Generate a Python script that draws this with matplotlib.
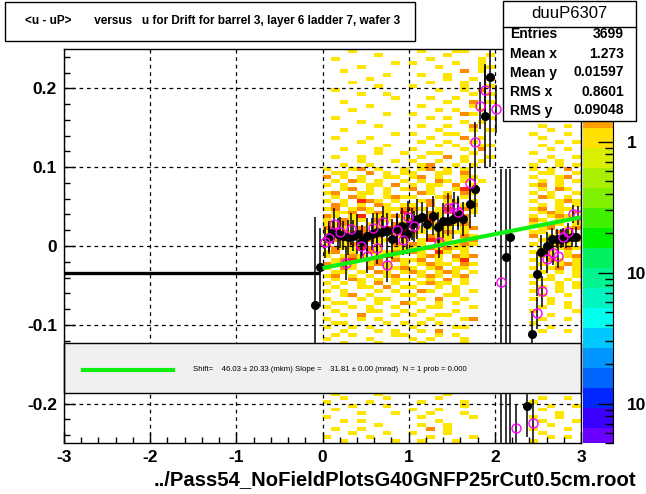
import numpy as np
import matplotlib.pyplot as plt
from matplotlib.patches import Rectangle
from matplotlib.colors import ListedColormap
from matplotlib.ticker import MultipleLocator, LogLocator, NullFormatter

plt.rcParams['font.family'] = ['Liberation Sans', 'DejaVu Sans']
plt.rcParams['axes.unicode_minus'] = False

# profile (black dots), errors low / high
prof_x = [-0.09, -0.03, 0.07, 0.125, 0.183, 0.241, 0.299, 0.357, 0.396, 0.454, 0.513, 0.571,
          0.629, 0.687, 0.745, 0.803, 0.861, 0.919, 0.977, 1.035, 1.093, 1.151, 1.209, 1.286,
          1.344, 1.402, 1.460, 1.518, 1.576, 1.634, 1.712, 1.770, 1.886, 1.944,
          2.13, 2.18, 2.37, 2.43, 2.49, 2.54, 2.60, 2.66, 2.72, 2.77, 2.83, 2.89, 2.94]
prof_y = [-0.075, -0.027, 0.012, 0.0174, 0.0152, 0.0131, 0.011, 0.0131, 0.0152, 0.0068, 0.0131, 0.0152,
          0.0174, 0.0182, 0.0195, 0.0089, 0.0216, 0.0258, 0.0152, 0.028, 0.0343, 0.0364, 0.028, 0.0385,
          0.0237, 0.0322, 0.0322, 0.0343, 0.0406, 0.0343, 0.053, 0.072, 0.165, 0.215,
          -0.014, 0.012, -0.203, -0.112, -0.036, -0.008, -0.0004, 0.009, 0.009, 0.009, 0.010, 0.011, 0.012]
prof_lo = [0.112, 0.05, 0.02, 0.015, 0.02, 0.018, 0.022, 0.02, 0.025, 0.02, 0.022, 0.02,
           0.025, 0.02, 0.022, 0.025, 0.02, 0.022, 0.025, 0.02, 0.025, 0.02, 0.022, 0.025,
           0.02, 0.022, 0.02, 0.025, 0.02, 0.022, 0.03, 0.035, 0.066, 0.115,
           0.25, 0.27, 0.04, 0.03, 0.028, 0.022, 0.018, 0.014, 0.012, 0.012, 0.012, 0.012, 0.012]
prof_hi = [0.112, 0.05, 0.02, 0.015, 0.02, 0.018, 0.022, 0.02, 0.025, 0.02, 0.022, 0.02,
           0.025, 0.02, 0.022, 0.025, 0.02, 0.022, 0.025, 0.02, 0.025, 0.02, 0.022, 0.025,
           0.02, 0.022, 0.02, 0.025, 0.02, 0.022, 0.03, 0.035, 0.066, 0.115,
           0.112, 0.086, 0.04, 0.03, 0.028, 0.022, 0.018, 0.014, 0.012, 0.012, 0.012, 0.012, 0.012]

# second profile (magenta open markers)
mag_x = [0.029, 0.079, 0.137, 0.203, 0.273, 0.331, 0.443, 0.513, 0.582, 0.636, 0.698, 0.752,
         0.868, 0.93, 0.996, 1.062, 1.356, 1.46, 1.526, 1.576, 1.712, 1.77, 1.83, 1.89,
         2.01, 2.07, 2.25, 2.44, 2.49, 2.551, 2.609, 2.671, 2.737, 2.795, 2.852, 2.91, 2.97]
mag_y = [0.0047, 0.0097, 0.028, 0.0174, -0.0216, 0.0216, 0.0004, -0.0123, 0.0224, -0.003, 0.031, -0.024,
         0.0207, 0.008, 0.0372, 0.025, 0.0047, 0.0478, 0.049, 0.0436, 0.080, 0.132, 0.178, 0.198,
         0.174, -0.046, -0.231, -0.224, -0.085, -0.0576, -0.0165, -0.0093, -0.013, 0.011, 0.0174, 0.0406, 0.039]
mag_lo = [0.02, 0.02, 0.02, 0.02, 0.022, 0.02, 0.02, 0.022, 0.02, 0.02, 0.02, 0.022,
          0.02, 0.02, 0.02, 0.02, 0.02, 0.02, 0.02, 0.02, 0.025, 0.025, 0.03, 0.03,
          0.03, 0.25, 0.03, 0.03, 0.02, 0.02, 0.018, 0.015, 0.015, 0.012, 0.012, 0.012, 0.012]
mag_hi = [0.02, 0.02, 0.02, 0.02, 0.022, 0.02, 0.02, 0.022, 0.02, 0.02, 0.02, 0.022,
          0.02, 0.02, 0.02, 0.02, 0.02, 0.02, 0.02, 0.02, 0.025, 0.025, 0.03, 0.03,
          0.03, 0.144, 0.03, 0.03, 0.02, 0.02, 0.018, 0.015, 0.015, 0.012, 0.012, 0.012, 0.012]

# straight line fit and the empty-bin line on the left
fit_x = [0.0, 3.0]
fit_y = [-0.028, 0.0365]
empty_x = [-3.0, -0.03]
empty_y = [-0.0343, -0.0343]

# 2d histogram, rows from y=+0.25 down to -0.25, x bins of 0.1 from 0 to 3
# '.' empty, y yellow, o orange, r red ; '|' = empty columns 2.0..2.4
heat_rows = [
    "...y...... .y...yy... | ......",
    "......y... ....y....y | ......",
    ".y........ ..y.....y. | ......",
    "........y. y....y..y. | ......",
    "....y..... ...y....yy | ......",
    "..y....... ......o.y. | ......",
    ".......y.. .y..y..... | ......",
    ".....y.... ....y..y.y | ......",
    "...y...... ..y...y... | ......",
    "......y... y.....y..y | ......",
    ".y........ ...y..y.o. | ......",
    "....y..y.. .......y.y | ......",
    "........y. ..y..y.... | ......",
    "..y....... ....y..o.y | ......",
    ".....y.... .y.....y.. | ......",
    "...y...... ...y.y..y. | ......",
    ".......y.. y.....oy.. | ......",
    ".y........ ..y.y....y | ......",
    "....y..... ......y.y. | ......",
    "......y... .y..y..o.. | .y..y.",
    "..y....... ...y...y.y | ..y...",
    "........y. y...yy.... | y...y.",
    ".y...y.... ..y...o.y. | .y....",
    "....y..... .y..y..y.. | ...y.y",
    ".......y.. ...y.y..yy | .y....",
    "..y...y... y.....y.o. | ..y.y.",
    "......y..y ..yy...y.. | y.....",
    ".y..y..... .y..o.y..y | ..y..y",
    "....y...y. y..y..y.y. | .y.y..",
    "..y..y.... .yo..y.y.. | y..y.y",
    "y..yo.y..y .yo.y.y... | y.y.o.",
    ".yy..o.y.y y..yy.o... | .yy..y",
    "o.y.y..yy. yo.y..yy.. | y..yo.",
    ".y.oy.y..y .y.oy.y.y. | .y.y.y",
    "y.y..yy.o. y.yy.o.y.. | yo.y..",
    "..yo.y.y.y o.y..yr... | .y.oy.",
    "yo..yy.y.. .oy.y.oy.. | y.y..y",
    ".y.oy..yoy y..yo.y... | .oy.y.",
    "y.y.roy.y. .yo.yy.y.. | y..yoy",
    ".oy.y.oy.y y.o.y.yo.. | .y.y.y",
    "yo.yoy.yyo oy.yr.oy.. | yo.yy.",
    ".yyo.yoy.r y.oyoy.y.. | .yoy.y",
    "oy.yr.yyoy .yoy.yo... | y.yoy.",
    "y.oyy.oy.y oyr.yoy... | oy.y.y",
    "yyoy.yy.oy y.yoryo... | y.oy.y",
    "oyy.o.yroy .yyoy.yo.. | .yo.yo",
    "y.oyoyy.yr oy.yoyy... | yy.oy.",
    ".yy.ryo.yo y.oyy.oy.. | o.y.yy",
    "yoy.yoyy.y .yroy.yo.. | .yoy.y",
    "y.yoo.y.oy oy.y.yoy.. | y.yoy.",
    ".oyyroy.yy y.oyoyy... | .y.yoy",
    "yo.y.oyyoy oy.ry.y... | yoy.y.",
    "y.yoy.yry. .yoy.oyo.. | .yy.yo",
    ".yoryyo.oy yo.y.yr... | y.oy.y",
    "oy.y.yoy.y .yoyy.oy.. | .y.yoy",
    "y.oy.o.yyo y.yo.yy... | y.yo.y",
    ".yy.y.oy.y oy.yoy.y.. | .y.y.y",
    "yo.y.y.yo. .yoy.yo... | y.y..y",
    ".y.oy.y.yy y.y.o.y... | .yy.y.",
    "y.y.y.o.y. .yoyy.y... | y..y.y",
    ".y..yy.o.y y..y.y.... | .y.y.y",
    "y.y...y.y. .oy..y.y.. | y..y..",
    "..yo.y...y y...yy.... | .y..y.",
    "y...y.yy.. .y.o..y... | y.y...",
    ".yy...y..o y..y.y.... | ..y.y.",
    "y..y.y..y. ..yy...y.. | .y..y.",
    ".y...yy..y .y...y.... | y....y",
    "..y.o...y. y..yy..... | ..y...",
    "y...y.y... ..y...yo.. | .y..y.",
    ".yy....y.y .y.y...... | y.....",
    "y..y.y.... y....yy... | ..y...",
    "..y...y.y. .y.o...... | .y..y.",
    ".y.y....yy ...y.y.... | ......",
    "y....y.... y.y...y... | ......",
    "..y...y... .y....y... | ......",
    "y....y.... ...y...... | ......",
    "...y....y. .y...y.... | ......",
    ".y.....y.. ....y...y. | ......",
    "....y..... y......y.. | ......",
    "..y...y... ..y...y... | ......",
    "y.....y... ....y..... | ......",
    "...y...... .y...y.... | ......",
    ".y....y.y. ......y... | ......",
    "....y..... y...y..... | ......",
    "..y....y.. ..y....... | ......",
    "y.....y... ....y..y.. | ......",
    "...y...... .y.....y.. | ......",
    ".y....y... ....y..... | ......",
    "..y....y.. ...y...... | .y..y.",
    "y....y.... .y....y... | y.....",
    "...y...y.. ......y... | ..y..y",
    ".y........ y..y...... | .y....",
    "....y...y. ..y...y... | ...y..",
    "y......... .y.....y.. | y..y..",
    "..y.y..... ...y...... | .y...y",
    "......y... .y..y..... | ..y...",
    ".y..y..... ..o.y..... | y...y.",
    "...y...y.. y...y..... | .y....",
    "y....y.... ..y....y.. | ..y.y.",
    "..y.....y. .y...y.... | y.....",
]
heat_colors = ['#ffe600', '#ff8c00', '#ff2a00']

# palette bar
band_colors = ['#ff9f00', '#ffe000', '#d8f000', '#a8f000', '#7ff000', '#40f000', '#00f000',
               '#00f060', '#00f590', '#00f5c0', '#00ffee', '#00c8ff', '#0096ff', '#0064ff',
               '#0028ff', '#3a00ff', '#6a00ff']
band_top = 1.266
band_step = 20 / 131.0   # decades per band
z_range = (0.005, 1.414)

stat_names = ['Entries', 'Mean x', 'Mean y', 'RMS x', 'RMS y']
stat_vals = ['3699', '1.273', '0.01597', '0.8601', '0.09048']

title = '<u - uP>       versus   u for Drift for barrel 3, layer 6 ladder 7, wafer 3'
xtitle = '../Pass54_NoFieldPlotsG40GNFP25rCut0.5cm.root'
fit_text = 'Shift=    46.03 \u00b1 20.33 (mkm) Slope =    31.81 \u00b1 0.00 (mrad)  N = 1 prob = 0.000'

W, H = 646, 494
fig = plt.figure(figsize=(W / 100, H / 100), dpi=100)
ax = fig.add_axes([64 / W, 1 - 443 / H, 517 / W, 394 / H])

# build the histogram grid
codes = {'.': 0, 'y': 1, 'o': 2, 'r': 3}
grid = []
for row in heat_rows:
    left, right = row.split('|')
    s = left.replace(' ', '').ljust(20, '.')[:20] + '....' + right.replace(' ', '').ljust(6, '.')[:6]
    grid.append([codes[c] for c in s])
grid = np.array(grid)[::-1]
z = np.ma.masked_equal(grid, 0)
xe = np.linspace(0, 3, 31)
ye = np.linspace(-0.25, 0.25, 101)
ax.pcolormesh(xe, ye, z, cmap=ListedColormap(heat_colors), vmin=0.5, vmax=3.5,
              edgecolors='none', antialiased=False, zorder=1)

ax.set_xlim(-3, 3)
ax.set_ylim(-0.25, 0.25)
ax.grid(True, color='black', linestyle=(0, (3, 3)), linewidth=0.9, zorder=2)
ax.set_axisbelow(False)

ax.plot(empty_x, empty_y, color='black', lw=2.4, solid_capstyle='butt', zorder=3)
ax.errorbar(prof_x, prof_y, yerr=[prof_lo, prof_hi], fmt='o', color='black', ms=5.5,
            elinewidth=1.1, capsize=0, zorder=4)
ax.errorbar(mag_x, mag_y, yerr=[mag_lo, mag_hi], fmt='none', ecolor='black',
            elinewidth=1.1, capsize=0, zorder=4)
ax.plot(mag_x, mag_y, 'o', mfc='none', mec='#ff00ff', ms=6.5, mew=1.0, zorder=5)
ax.plot(fit_x, fit_y, color='#11ee11', lw=3, solid_capstyle='butt', zorder=6)

# fit legend box
ax.add_patch(Rectangle((0, 0.1269), 1, 0.1269, transform=ax.transAxes, facecolor='#f0f0f0',
                       edgecolor='black', lw=1, zorder=7, clip_on=False))
ax.plot([0.0368, 0.2108], [0.1853, 0.1853], transform=ax.transAxes, color='#11ee11', lw=3,
        zorder=8, clip_on=False)
ax.text(0.2495, 0.1853, fit_text, transform=ax.transAxes, fontsize=5.6, va='center',
        ha='left', zorder=8)

ax.xaxis.set_major_locator(MultipleLocator(1))
ax.xaxis.set_minor_locator(MultipleLocator(0.2))
ax.yaxis.set_major_locator(MultipleLocator(0.1))
ax.yaxis.set_minor_locator(MultipleLocator(0.02))
ax.set_yticks([-0.2, -0.1, 0, 0.1, 0.2])
ax.set_yticklabels(['-0.2', '-0.1', '0', '0.1', '0.2'])
ax.tick_params(which='both', direction='in', top=False, right=False)
ax.tick_params(which='major', length=8, width=1, labelsize=12.5, pad=5)
ax.tick_params(which='minor', length=4, width=1)
for lab in ax.get_xticklabels() + ax.get_yticklabels():
    lab.set_fontweight('bold')
for sp in ax.spines.values():
    sp.set_linewidth(1)
    sp.set_zorder(9)

# palette
cax = fig.add_axes([583 / W, 1 - 443 / H, 30 / W, 321 / H])
edges = band_top * 10 ** (-band_step * np.arange(-1, len(band_colors)))
for i, c in enumerate(band_colors):
    cax.axhspan(edges[i + 1], edges[i], color=c, lw=0)
cax.set_yscale('log')
cax.set_ylim(*z_range)
cax.set_xlim(0, 1)
cax.set_xticks([])
cax.yaxis.tick_right()
cax.set_yticks([1, 0.1, 0.01])
cax.set_yticklabels(['1', '10', '10'])
cax.yaxis.set_minor_locator(LogLocator(base=10, subs=range(2, 10)))
cax.yaxis.set_minor_formatter(NullFormatter())
cax.tick_params(which='both', direction='in', left=False, right=True)
cax.tick_params(which='major', length=11, width=1, labelsize=12.5, pad=10)
cax.tick_params(which='minor', length=6, width=1)
for lab in cax.get_yticklabels():
    lab.set_fontweight('bold')
for k in ['left', 'top', 'bottom']:
    cax.spines[k].set_visible(False)

# title box
fig.add_artist(Rectangle((5 / W, 1 - 41 / H), 410 / W, 39 / H, transform=fig.transFigure,
                         facecolor='white', edgecolor='black', lw=1))
fig.text(25 / W, 1 - 21 / H, title, fontsize=8.5, fontweight='bold', va='center', ha='left')

# stats box
fig.add_artist(Rectangle((503 / W, 1 - 121 / H), 133 / W, 120 / H, transform=fig.transFigure,
                         facecolor='white', edgecolor='black', lw=1, zorder=10))
fig.add_artist(plt.Line2D([503 / W, 636 / W], [1 - 27 / H, 1 - 27 / H], transform=fig.transFigure,
                          color='black', lw=1, zorder=11))
fig.text(569 / W, 1 - 13 / H, 'duuP6307', fontsize=12, ha='center', va='center', zorder=11)
for i, (n, v) in enumerate(zip(stat_names, stat_vals)):
    yy = 1 - (34.5 + 19 * i) / H
    fig.text(510 / W, yy, n, fontsize=10, fontweight='bold', ha='left', va='center', zorder=11)
    fig.text(624 / W, yy, v, fontsize=10, fontweight='bold', ha='right', va='center', zorder=11)

fig.text(154 / W, 1 - 480 / H, xtitle, fontsize=14.6, fontweight='bold', ha='left', va='center')

fig.savefig('out.png', dpi=100)
